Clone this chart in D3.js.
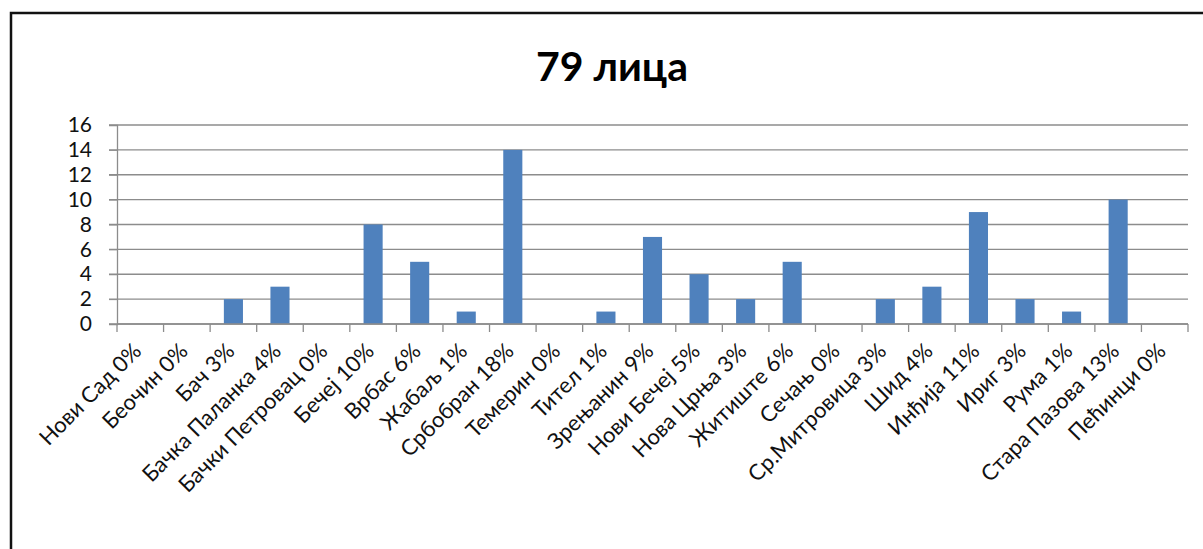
<!DOCTYPE html>
<html>
<head>
<meta charset="utf-8">
<script src="https://cdnjs.cloudflare.com/ajax/libs/d3/7.8.5/d3.min.js"></script>
<style>
    body { margin: 0; background: #fff; }
    svg { display: block; font-family: Lato, "Open Sans", sans-serif; }
</style>
</head>
<body>
<div id="chart"></div>
<script>
const title = "79 лица";
const places = ["Нови Сад", "Беочин", "Бач", "Бачка Паланка", "Бачки Петровац", "Бечеј", "Врбас", "Жабаљ",
    "Србобран", "Темерин", "Тител", "Зрењанин", "Нови Бечеј", "Нова Црња", "Житиште", "Сечањ",
    "Ср.Митровица", "Шид", "Инђија", "Ириг", "Рума", "Стара Пазова", "Пећинци"];
const counts = [0, 0, 2, 3, 0, 8, 5, 1, 14, 0, 1, 7, 4, 2, 5, 0, 2, 3, 9, 2, 1, 10, 0];
const percents = [0, 0, 3, 4, 0, 10, 6, 1, 18, 0, 1, 9, 5, 3, 6, 0, 3, 4, 11, 3, 1, 13, 0];
const yTicks = [0, 2, 4, 6, 8, 10, 12, 14, 16];

const width = 1203, height = 549;
const margin = { left: 117, right: 15, top: 125, bottom: 225 };

const svg = d3.select("#chart").append("svg")
    .attr("width", width)
    .attr("height", height);

// chart frame (runs off the right / bottom edge like the screenshot)
svg.append("rect")
    .attr("x", 11).attr("y", 13)
    .attr("width", 1240).attr("height", 600)
    .attr("fill", "none")
    .attr("stroke", "#111")
    .attr("stroke-width", 2.5);

svg.append("text")
    .attr("x", 612).attr("y", 81)
    .attr("text-anchor", "middle")
    .style("font-size", "41px")
    .style("font-weight", "bold")
    .text(title);

const labels = places.map((p, i) => `${p} ${percents[i]}%`);

const x = d3.scaleBand()
    .domain(labels)
    .range([margin.left, width - margin.right])
    .paddingInner(0.59)
    .paddingOuter(0.295);

const y = d3.scaleLinear()
    .domain([0, 16])
    .range([height - margin.bottom, margin.top]);

// gridlines
svg.append("g")
    .selectAll("line")
    .data(yTicks)
    .join("line")
    .attr("x1", margin.left - 8)
    .attr("x2", width - margin.right)
    .attr("y1", d => y(d))
    .attr("y2", d => y(d))
    .attr("stroke", "#8c8c8c")
    .attr("stroke-width", 1.3);

// y axis
const yAxis = svg.append("g")
    .attr("transform", `translate(${margin.left},0)`)
    .call(d3.axisLeft(y).tickValues(yTicks).tickSize(8).tickPadding(17));
yAxis.select(".domain").attr("stroke", "#8c8c8c").attr("stroke-width", 1.3);
yAxis.selectAll(".tick line").attr("stroke", "#8c8c8c");
yAxis.selectAll("text").style("font-size", "21px").attr("fill", "#111").style("font-family", "Lato, 'Open Sans', sans-serif");

// bars
svg.append("g")
    .selectAll("rect")
    .data(counts)
    .join("rect")
    .attr("x", (d, i) => x(labels[i]))
    .attr("y", d => y(d))
    .attr("width", x.bandwidth())
    .attr("height", d => y(0) - y(d))
    .attr("fill", "#4f81bd");

// x axis: ticks on category boundaries
const step = x.step();
const bounds = d3.range(labels.length + 1).map(i => margin.left + i * step);
const xAxis = svg.append("g");
xAxis.append("line")
    .attr("x1", margin.left).attr("x2", width - margin.right)
    .attr("y1", y(0)).attr("y2", y(0))
    .attr("stroke", "#8c8c8c").attr("stroke-width", 1.3);
xAxis.selectAll("line.tick")
    .data(bounds)
    .join("line")
    .attr("class", "tick")
    .attr("x1", d => d).attr("x2", d => d)
    .attr("y1", y(0)).attr("y2", y(0) + 8)
    .attr("stroke", "#8c8c8c").attr("stroke-width", 1.3);

xAxis.selectAll("text")
    .data(labels)
    .join("text")
    .attr("transform", d => `translate(${x(d) + x.bandwidth() / 2 - 3},${y(0) + 23}) rotate(-45)`)
    .attr("text-anchor", "end")
    .attr("dy", "0.35em")
    .style("font-size", "22px")
    .attr("fill", "#111")
    .text(d => d);
</script>
</body>
</html>
